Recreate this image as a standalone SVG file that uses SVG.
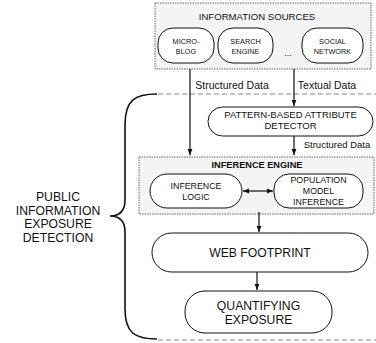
<svg xmlns="http://www.w3.org/2000/svg" width="376" height="343" viewBox="0 0 376 343">
<defs>
<style>
text{font-family:"Liberation Sans",Arial,sans-serif;fill:#111;text-anchor:middle}
.pill{fill:#fff;stroke:#111;stroke-width:1}
.grp{fill:#f4f4f4;stroke:#666;stroke-width:1;stroke-dasharray:1.5,1}
.ln{stroke:#111;stroke-width:1.2;fill:none}
.dash{stroke:#888;stroke-width:1;stroke-dasharray:5,3;fill:none}
.s6{font-size:7.3px}
.s8{font-size:8.8px}
.s9{font-size:9.5px}
.s10{font-size:10.5px}
.s11{font-size:12.2px}
</style>
<marker id="ah" viewBox="0 0 10 10" refX="10" refY="5" markerWidth="6" markerHeight="6" orient="auto-start-reverse" markerUnits="userSpaceOnUse">
<path d="M0,1 L10,5 L0,9 Z" fill="#111"/>
</marker>
</defs>
<rect width="376" height="343" fill="#fff"/>

<g id="frame">
<line class="dash" x1="158" y1="94" x2="376" y2="94"/>
<line class="dash" x1="158" y1="340" x2="376" y2="340"/>
<path d="M157,94 C135,94 125,100 125,125 L125,200 C125,211 119,216 110,216 C119,216 125,221 125,232 L125,309 C125,333 135,339 157,339" fill="none" stroke="#111" stroke-width="1.6"/>
<text class="s11" x="58" y="201">PUBLIC</text>
<text class="s11" x="58" y="215">INFORMATION</text>
<text class="s11" x="58" y="228">EXPOSURE</text>
<text class="s11" x="58" y="242">DETECTION</text>
</g>

<g id="information-sources">
<rect class="grp" x="155" y="3" width="216" height="66"/>
<text x="257" y="20" font-size="9.6px">INFORMATION SOURCES</text>
</g>
<g id="microblog">
<rect class="pill" x="158" y="28" width="56" height="35" rx="15"/>
<text class="s6" x="186" y="44">MICRO-</text>
<text class="s6" x="186" y="54">BLOG</text>
</g>
<g id="search-engine">
<rect class="pill" x="218" y="28" width="55" height="35" rx="15"/>
<text class="s6" x="245.5" y="44">SEARCH</text>
<text class="s6" x="245.5" y="54">ENGINE</text>
</g>
<g id="ellipsis">
<text class="s8" x="288" y="56">...</text>
</g>
<g id="social-network">
<rect class="pill" x="302" y="28" width="61" height="35" rx="15"/>
<text class="s6" x="332.5" y="44">SOCIAL</text>
<text class="s6" x="332.5" y="54">NETWORK</text>
</g>

<g id="pattern-detector">
<rect class="pill" x="208" y="107" width="165" height="29" rx="14.5"/>
<text class="s9" x="290.5" y="118">PATTERN-BASED ATTRIBUTE</text>
<text class="s9" x="290.5" y="128.5">DETECTOR</text>
</g>

<g id="inference-engine">
<rect class="grp" x="139" y="157" width="235" height="57"/>
<text x="257" y="168" font-size="9.2px" font-weight="bold">INFERENCE ENGINE</text>
</g>
<g id="inference-logic">
<rect class="pill" x="150" y="174" width="92" height="34" rx="17"/>
<text class="s8" x="196" y="189">INFERENCE</text>
<text class="s8" x="196" y="200">LOGIC</text>
</g>
<g id="population-model">
<rect class="pill" x="274" y="174" width="89" height="34" rx="15"/>
<text class="s8" x="318.5" y="183">POPULATION</text>
<text class="s8" x="318.5" y="194">MODEL</text>
<text class="s8" x="318.5" y="205">INFERENCE</text>
</g>

<g id="web-footprint">
<rect class="pill" x="152" y="233" width="216" height="39" rx="19.5"/>
<text class="s11" x="260" y="257">WEB FOOTPRINT</text>
</g>
<g id="quantifying-exposure">
<rect class="pill" x="185" y="291" width="147" height="42" rx="20"/>
<text class="s11" x="258.5" y="310">QUANTIFYING</text>
<text class="s11" x="258.5" y="324">EXPOSURE</text>
</g>

<g id="connectors">
<line class="ln" x1="190" y1="69" x2="190" y2="155" marker-end="url(#ah)"/>
<text class="s10" x="232" y="89">Structured Data</text>
<line class="ln" x1="294" y1="69" x2="294" y2="106" marker-end="url(#ah)"/>
<text class="s10" x="327" y="89">Textual Data</text>
<line class="ln" x1="294" y1="136" x2="294" y2="155" marker-end="url(#ah)"/>
<text class="s9" x="337" y="148">Structured Data</text>
<line class="ln" x1="243" y1="191" x2="273" y2="191" marker-start="url(#ah)" marker-end="url(#ah)"/>
<line class="ln" x1="259" y1="212" x2="259" y2="232" marker-end="url(#ah)"/>
<line class="ln" x1="257" y1="272" x2="257" y2="290" marker-end="url(#ah)"/>
</g>
</svg>
